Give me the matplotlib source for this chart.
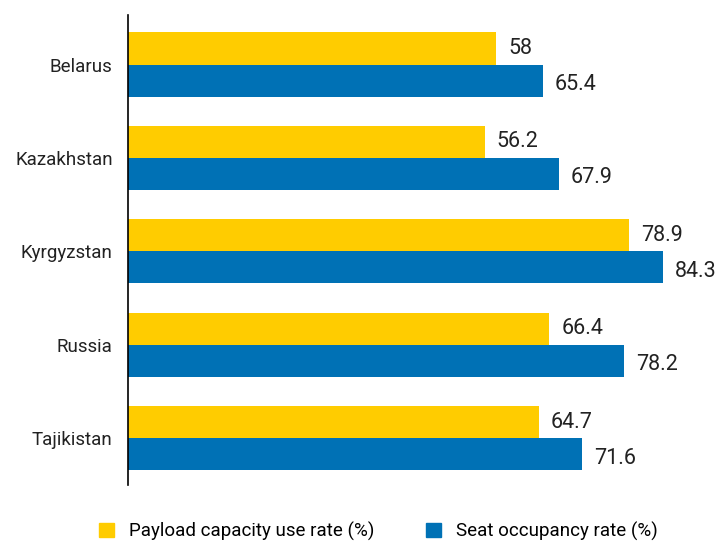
import numpy as np
import matplotlib.pyplot as plt
from matplotlib.patches import Patch

countries = ['Belarus', 'Kazakhstan', 'Kyrgyzstan', 'Russia', 'Tajikistan']
payload = [58, 56.2, 78.9, 66.4, 64.7]
seats = [65.4, 67.9, 84.3, 78.2, 71.6]

yellow = '#FFCC00'
blue = '#0071B5'
plt.rcParams['font.family'] = ['Roboto', 'DejaVu Sans']

fig = plt.figure(figsize=(7.2, 5.41), dpi=100)
ax = fig.add_axes([128 / 720, 56 / 541, 592 / 720, 470 / 541])

y = np.arange(len(countries))
h = 0.343
ax.barh(y - h / 2, payload, height=h, color=yellow)
ax.barh(y + h / 2, seats, height=h, color=blue)

for yi, v in zip(y, payload):
    ax.text(v + 1.9, yi - h / 2, f'{v:g}', va='center', ha='left', fontsize=15.5, color='#222222')
for yi, v in zip(y, seats):
    ax.text(v + 1.9, yi + h / 2 + 0.04, f'{v:g}', va='center', ha='left', fontsize=15.5, color='#222222')

ax.set_xlim(0, 93.3)
ax.set_ylim(4.5, -0.53)
ax.set_yticks(y)
ax.set_yticklabels(countries, fontsize=13.5, color='#222222')
ax.tick_params(axis='y', length=0, pad=11)
ax.set_xticks([])
for s in ['top', 'right', 'bottom']:
    ax.spines[s].set_visible(False)
ax.spines['left'].set_linewidth(1.2)

handles = [Patch(color=yellow), Patch(color=blue)]
fig.legend(handles, ['Payload capacity use rate (%)', 'Seat occupancy rate (%)'],
           loc='center', bbox_to_anchor=(0.525, 0.018), ncol=2, frameon=False,
           fontsize=13.5, handlelength=0.8, handleheight=0.8, columnspacing=2.75,
           handletextpad=0.8)

fig.savefig('out.png', dpi=100)
